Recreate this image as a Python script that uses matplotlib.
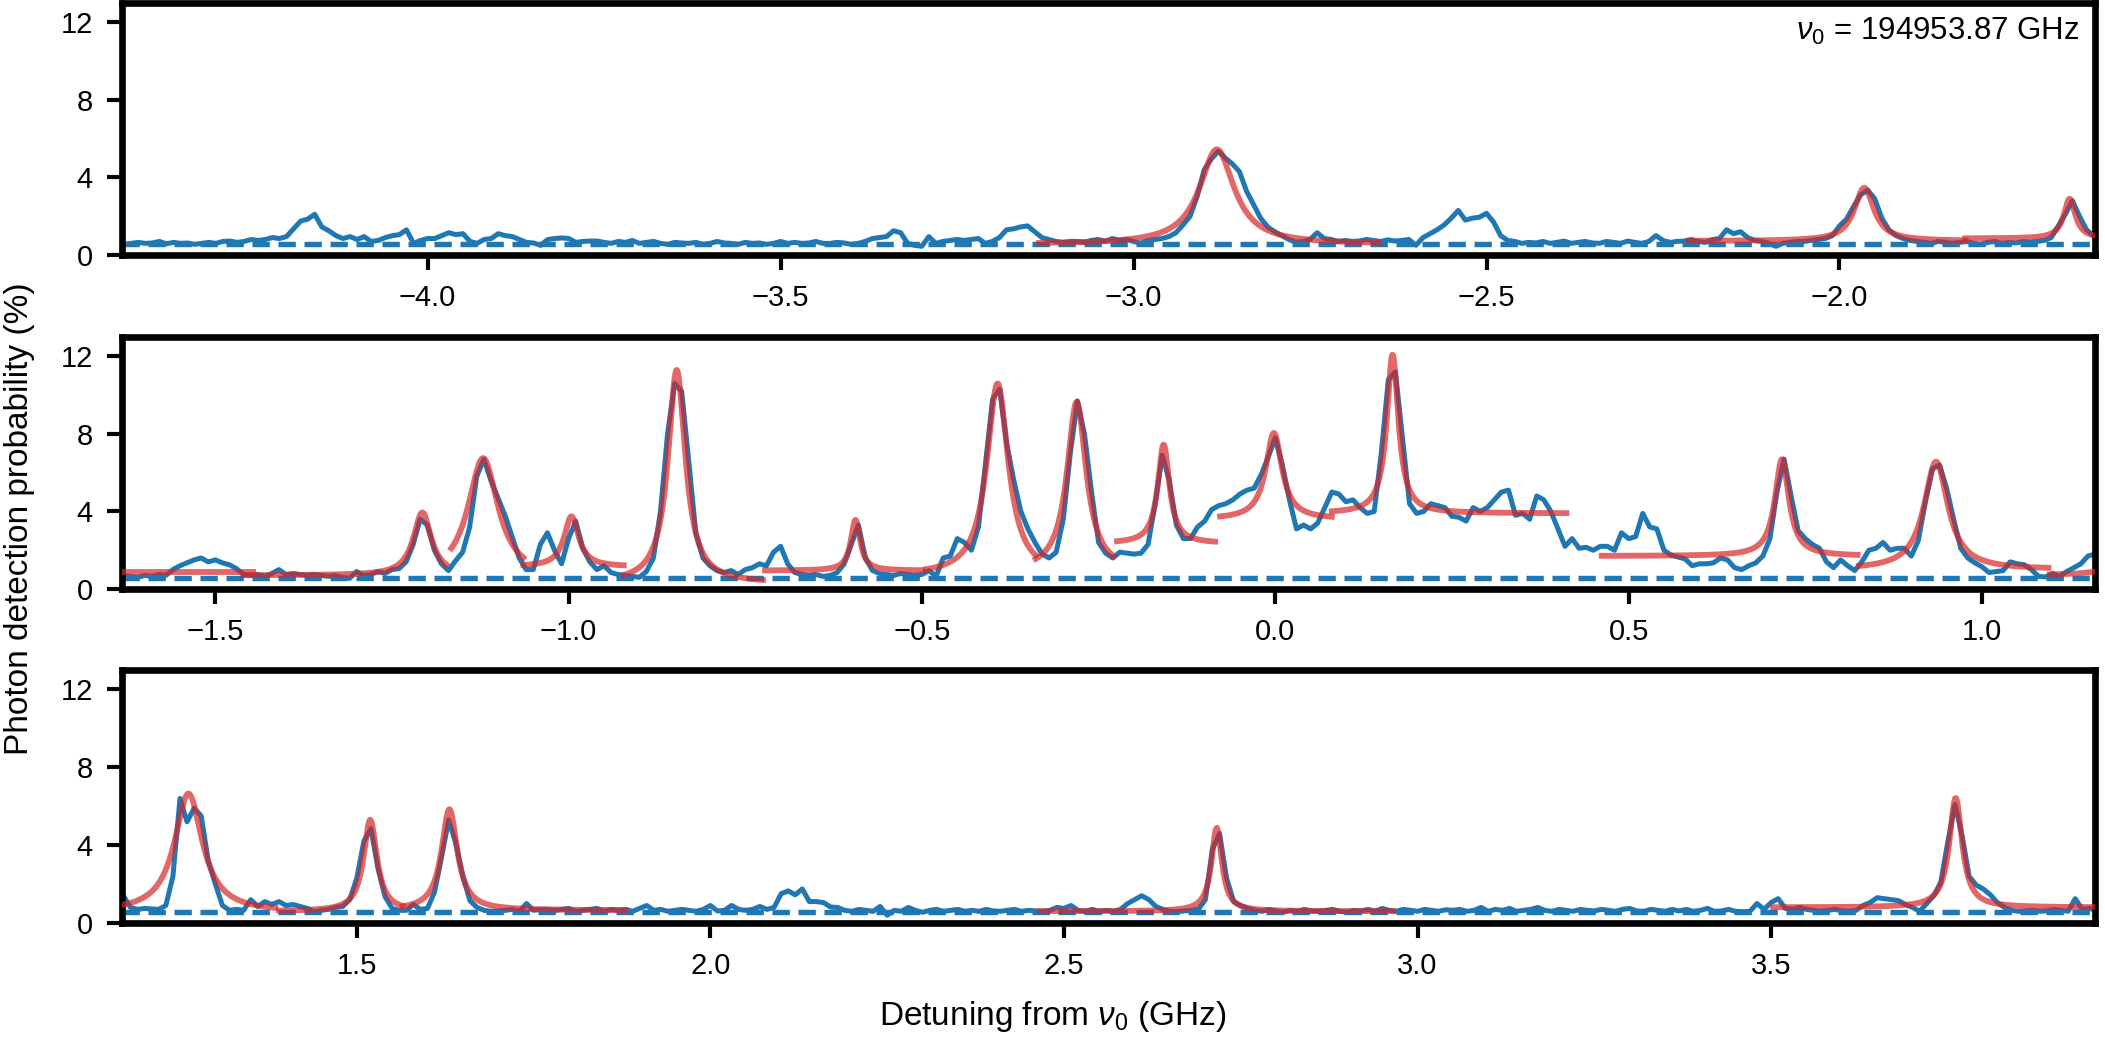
import numpy as np
import matplotlib
matplotlib.use("Agg")
import matplotlib.pyplot as plt
from matplotlib.ticker import MultipleLocator

plt.rcParams["font.family"] = ["Liberation Sans", "DejaVu Sans"]
plt.rcParams["mathtext.fontset"] = "custom"
plt.rcParams["mathtext.rm"] = "Liberation Sans"
plt.rcParams["mathtext.it"] = "Liberation Sans:italic"

# detuning grid step (GHz) and first point of each chunk
step = 0.01
start1 = -4.43
start2 = -1.63
start3 = 1.17

# photon detection probability (%), one row = 0.1 GHz
p1_y = [
    0.55, 0.6, 0.65, 0.6, 0.62, 0.7, 0.58, 0.65, 0.6, 0.62,
    0.55, 0.6, 0.65, 0.6, 0.7, 0.72, 0.65, 0.7, 0.8, 0.75,
    0.8, 0.9, 0.85, 0.95, 1.35, 1.75, 1.85, 2.1, 1.45, 1.25,
    1.0, 0.85, 0.95, 0.8, 0.95, 0.7, 0.75, 0.9, 1.0, 1.05,
    1.3, 0.6, 0.75, 0.85, 0.85, 1.0, 1.15, 1.05, 1.1, 0.7,
    0.6, 0.8, 0.85, 1.1, 1.0, 0.95, 0.8, 0.65, 0.62, 0.5,
    0.8, 0.85, 0.88, 0.85, 0.65, 0.7, 0.72, 0.72, 0.65, 0.6,
    0.7, 0.65, 0.75, 0.6, 0.65, 0.7, 0.6, 0.55, 0.65, 0.62,
    0.6, 0.65, 0.55, 0.6, 0.7, 0.62, 0.6, 0.55, 0.65, 0.6,
    0.62, 0.55, 0.6, 0.7, 0.6, 0.65, 0.6, 0.62, 0.7, 0.6,
    0.6, 0.65, 0.62, 0.55, 0.6, 0.7, 0.85, 0.9, 0.95, 1.25,
    1.15, 0.6, 0.5, 0.45, 0.95, 0.6, 0.7, 0.75, 0.8, 0.75,
    0.8, 0.85, 0.6, 0.7, 0.9, 1.3, 1.35, 1.45, 1.5, 1.2,
    0.9, 0.8, 0.7, 0.65, 0.7, 0.7, 0.65, 0.75, 0.8, 0.7,
    0.85, 0.75, 0.8, 0.7, 0.6, 0.75, 0.8, 0.85, 0.95, 1.15,
    1.55, 2.0, 3.0, 4.4, 4.95, 5.35, 5.0, 4.7, 4.3, 3.3,
    2.6, 1.9, 1.45, 1.2, 1.0, 0.8, 0.65, 0.7, 0.8, 1.15,
    0.85, 0.8, 0.7, 0.75, 0.7, 0.72, 0.8, 0.75, 0.7, 0.78,
    0.72, 0.75, 0.8, 0.5, 0.9, 1.1, 1.3, 1.55, 1.9, 2.3,
    1.8, 1.9, 1.95, 2.15, 1.7, 1.0, 0.75, 0.7, 0.6, 0.65,
    0.62, 0.7, 0.6, 0.65, 0.72, 0.6, 0.65, 0.7, 0.62, 0.6,
    0.7, 0.65, 0.6, 0.72, 0.65, 0.6, 0.7, 1.0, 0.75, 0.65,
    0.7, 0.72, 0.8, 0.7, 0.65, 0.8, 0.85, 1.3, 1.1, 1.2,
    0.9, 0.75, 0.7, 0.6, 0.45, 0.6, 0.65, 0.7, 0.7, 0.75,
    0.8, 0.85, 1.0, 1.5, 1.85, 2.5, 3.1, 3.35, 2.9, 1.9,
    1.3, 1.0, 0.85, 0.75, 0.7, 0.65, 0.6, 0.7, 0.65, 0.6,
    0.65, 0.7, 0.6, 0.55, 0.65, 0.7, 0.6, 0.65, 0.62, 0.7,
    0.65, 0.7, 0.75, 0.9, 1.5, 2.1, 2.8, 2.0, 1.3, 1.0,
]

p2_y = [
    0.7, 0.65, 0.6, 0.7, 0.65, 0.75, 0.7, 1.0, 1.2, 1.35,
    1.5, 1.6, 1.4, 1.5, 1.35, 1.25, 1.05, 0.75, 0.7, 0.75,
    0.65, 0.8, 1.0, 0.75, 0.8, 0.75, 0.7, 0.75, 0.7, 0.65,
    0.7, 0.6, 0.55, 0.9, 0.7, 0.75, 0.9, 0.8, 1.0, 1.05,
    1.4, 2.3, 3.6, 3.3, 2.0, 1.3, 0.95, 1.45, 1.9, 3.2,
    5.8, 6.7, 5.6, 4.7, 3.8, 2.7, 1.6, 1.0, 1.0, 2.3,
    2.9, 2.0, 1.3, 2.6, 3.5, 2.1, 1.4, 1.0, 1.2, 0.85,
    0.75, 0.7, 0.65, 0.6, 0.9, 1.6, 4.0, 8.0, 10.6, 10.2,
    6.6, 2.9, 1.6, 1.2, 0.95, 0.85, 0.95, 0.75, 1.0, 1.1,
    1.3, 1.2, 1.9, 2.2, 1.3, 0.85, 0.75, 0.7, 0.75, 0.65,
    0.7, 0.85, 1.3, 2.3, 3.3, 1.6, 0.95, 0.8, 0.75, 0.7,
    0.8, 0.75, 0.7, 0.75, 0.95, 0.65, 1.6, 1.7, 2.6, 2.4,
    2.0, 3.2, 6.5, 9.8, 10.3, 7.5, 5.6, 4.0, 3.1, 2.4,
    1.8, 1.6, 1.9, 3.6, 7.0, 9.7, 8.0, 5.0, 2.4, 1.85,
    1.6, 1.9, 1.85, 1.8, 1.85, 2.3, 4.4, 6.9, 5.6, 3.3,
    2.6, 2.6, 3.2, 3.5, 4.1, 4.3, 4.4, 4.6, 4.9, 5.1,
    5.2, 5.9, 6.8, 7.8, 6.4, 4.6, 3.1, 3.3, 3.1, 3.4,
    4.2, 5.0, 4.9, 4.5, 4.6, 4.2, 3.9, 4.0, 7.0, 10.8,
    11.2, 7.8, 4.4, 3.9, 4.0, 4.4, 4.3, 4.2, 3.75, 3.7,
    3.5, 4.2, 4.0, 4.2, 4.6, 5.0, 5.1, 3.8, 3.9, 3.6,
    4.8, 4.6, 4.0, 3.1, 2.2, 2.6, 2.1, 2.15, 2.0, 2.2,
    2.2, 2.0, 2.9, 2.6, 2.7, 3.9, 3.2, 3.1, 2.0, 1.75,
    1.65, 1.55, 1.2, 1.3, 1.3, 1.35, 1.6, 1.5, 1.1, 1.0,
    1.2, 1.35, 1.7, 2.6, 5.0, 6.7, 4.8, 3.0, 2.6, 2.3,
    2.1, 1.4, 1.1, 1.5, 1.2, 0.95, 1.4, 2.0, 2.1, 2.4,
    2.0, 2.1, 2.1, 1.7, 2.5, 4.5, 6.2, 6.4, 5.2, 3.6,
    2.1, 1.6, 1.35, 1.15, 0.85, 0.9, 0.95, 1.4, 1.3, 1.25,
    1.0, 0.65, 0.62, 0.8, 0.65, 0.9, 1.1, 1.3, 1.7, 1.8,
]

p3_y = [
    1.4, 0.8, 0.7, 0.75, 0.72, 0.7, 0.9, 2.4, 6.4, 5.2,
    5.9, 5.5, 3.2, 2.0, 0.9, 0.65, 0.7, 0.65, 1.2, 0.85,
    1.1, 0.95, 1.1, 0.9, 0.95, 0.85, 0.75, 0.58, 0.65, 0.7,
    0.8, 0.85, 1.2, 2.3, 4.2, 4.85, 2.8, 1.35, 0.75, 0.65,
    0.65, 0.95, 0.7, 0.75, 1.6, 3.4, 5.3, 4.1, 2.4, 1.15,
    0.8, 0.65, 0.6, 0.62, 0.65, 0.7, 0.6, 1.0, 0.65, 0.7,
    0.7, 0.65, 0.7, 0.75, 0.6, 0.65, 0.7, 0.75, 0.6, 0.7,
    0.65, 0.7, 0.6, 0.75, 0.9, 0.65, 0.7, 0.6, 0.65, 0.7,
    0.65, 0.6, 0.7, 0.9, 0.62, 0.65, 0.9, 0.7, 0.65, 0.7,
    0.85, 0.7, 0.8, 1.5, 1.65, 1.45, 1.75, 1.1, 1.1, 1.05,
    0.82, 0.8, 0.65, 0.6, 0.7, 0.65, 0.6, 0.85, 0.4, 0.65,
    0.6, 0.8, 0.65, 0.55, 0.65, 0.7, 0.6, 0.65, 0.7, 0.6,
    0.65, 0.6, 0.7, 0.62, 0.6, 0.65, 0.7, 0.6, 0.65, 0.62,
    0.6, 0.65, 0.8, 0.75, 0.9, 0.65, 0.6, 0.7, 0.6, 0.65,
    0.6, 0.7, 1.0, 1.2, 1.4, 1.2, 0.85, 0.7, 0.6, 0.58,
    0.62, 0.65, 0.7, 1.2, 3.8, 4.6, 2.3, 1.1, 0.9, 0.75,
    0.65, 0.6, 0.7, 0.62, 0.55, 0.65, 0.6, 0.7, 0.62, 0.6,
    0.65, 0.7, 0.6, 0.55, 0.65, 0.62, 0.7, 0.6, 0.75, 0.65,
    0.6, 0.7, 0.65, 0.6, 0.7, 0.65, 0.6, 0.68, 0.65, 0.7,
    0.6, 0.65, 0.8, 0.6, 0.7, 0.65, 0.75, 0.6, 0.65, 0.7,
    0.8, 0.65, 0.6, 0.7, 0.65, 0.6, 0.7, 0.65, 0.62, 0.7,
    0.65, 0.6, 0.7, 0.75, 0.62, 0.6, 0.7, 0.65, 0.6, 0.7,
    0.62, 0.7, 0.6, 0.65, 0.75, 0.6, 0.62, 0.7, 0.6, 0.58,
    0.6, 1.0, 0.7, 1.05, 1.25, 0.75, 0.7, 0.8, 0.7, 0.65,
    0.6, 0.65, 0.7, 0.62, 0.6, 0.65, 0.9, 1.05, 1.3, 1.25,
    1.2, 1.15, 0.95, 0.8, 0.6, 1.0, 1.4, 2.1, 4.2, 6.1,
    4.5, 2.4, 1.95, 1.75, 1.45, 1.05, 0.8, 0.65, 0.6, 0.62,
    0.65, 0.6, 0.62, 0.7, 0.65, 0.6, 1.25, 0.7, 0.75, 0.65,
]

baseline = 0.57

# Lorentzian fits: (x_from, x_to, centre, amplitude, fwhm, offset)
p1_fits = [
    (-3.134, -2.653, -2.882, 4.9, 0.060, 0.55),
    (-2.214, -1.822, -1.965, 2.75, 0.034, 0.72),
    (-1.822, -1.636, -1.674, 2.05, 0.020, 0.85),
]
p2_fits = [
    (-1.632, -1.446, -1.55, 0.0, 0.05, 0.88),
    (-1.460, -1.173, -1.207, 3.25, 0.031, 0.70),
    (-1.166, -1.064, -1.121, 6.2, 0.052, 0.55),
    (-1.064, -0.922, -0.996, 2.6, 0.025, 1.15),
    (-0.922, -0.725, -0.847, 11.0, 0.030, 0.30),
    (-0.722, -0.499, -0.594, 2.62, 0.016, 0.95),
    (-0.494, -0.339, -0.393, 9.9, 0.037, 0.70),
    (-0.339, -0.229, -0.281, 8.75, 0.033, 0.90),
    (-0.224, -0.085, -0.158, 5.1, 0.020, 2.35),
    (-0.078, 0.080, -0.002, 4.45, 0.028, 3.60),
    (0.080, 0.412, 0.166, 8.2, 0.020, 3.90),
    (0.462, 0.824, 0.717, 5.0, 0.024, 1.70),
    (0.826, 1.094, 0.935, 5.57, 0.041, 1.00),
    (1.096, 1.160, 1.220, 2.0, 0.040, 0.70),
]
p3_fits = [
    (1.168, 1.385, 1.262, 6.1, 0.048, 0.55),
    (1.390, 1.565, 1.519, 4.7, 0.023, 0.60),
    (1.565, 1.880, 1.631, 5.2, 0.027, 0.65),
    (2.466, 2.965, 2.716, 4.3, 0.018, 0.60),
    (3.503, 3.958, 3.761, 5.64, 0.022, 0.80),
]

panels = [
    (start1, p1_y, p1_fits, (-4.433, -1.638)),
    (start2, p2_y, p2_fits, (-1.632, 1.160)),
    (start3, p3_y, p3_fits, (1.168, 3.958)),
]

blue = "#1f77b4"
red = "#d62728"

fig = plt.figure(figsize=(2105 / 300, 1037 / 300), dpi=300)
left, width = 122 / 2105, (2095 - 122) / 2105
rows = [(3, 255), (337, 589), (670, 923)]

for (x0, ys, fits, xlim), (top, bot) in zip(panels, rows):
    ax = fig.add_axes([left, 1 - bot / 1037, width, (bot - top) / 1037])
    xs = x0 + step * np.arange(len(ys))
    ax.plot(xs, ys, color=blue, lw=1.2, zorder=2)
    ax.axhline(baseline, color=blue, lw=1.3, ls=(0, (3.2, 1.6)), zorder=1)
    for a, b, c, amp, w, off in fits:
        fx = np.linspace(a, b, 300)
        fy = off + amp / (1 + (2 * (fx - c) / w) ** 2)
        ax.plot(fx, fy, color=red, lw=1.4, alpha=0.7, zorder=3)
    ax.set_xlim(*xlim)
    ax.set_ylim(0, 13)
    ax.set_yticks([0, 4, 8, 12])
    ax.xaxis.set_major_locator(MultipleLocator(0.5))
    ax.tick_params(labelsize=7, width=1.0, length=3.5)
    for s in ax.spines.values():
        s.set_linewidth(1.6)
    if top == 3:
        ax.text(0.992, 0.95, r"$\nu_0$ = 194953.87 GHz", transform=ax.transAxes,
                ha="right", va="top", fontsize=7.5)

fig.text(0.5, 0.02, r"Detuning from $\nu_0$ (GHz)", ha="center", va="center", fontsize=8)
fig.text(0.0095, 0.5, "Photon detection probability (%)", rotation=90,
         ha="center", va="center", fontsize=8)

fig.savefig("out.png", dpi=300)
